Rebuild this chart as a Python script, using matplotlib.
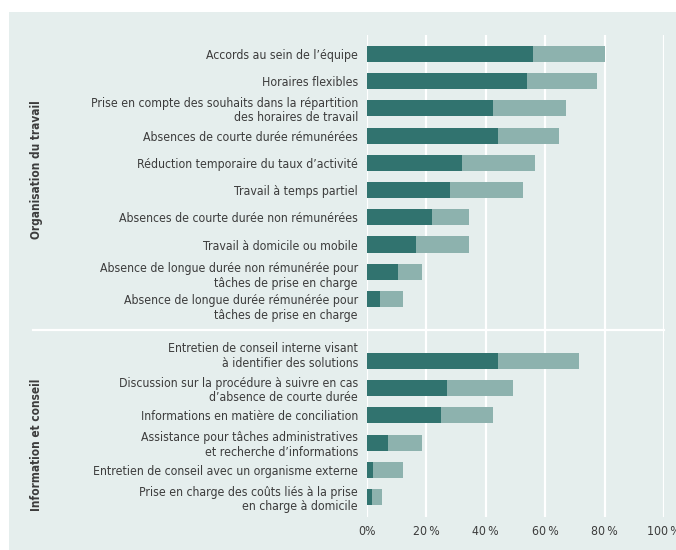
import matplotlib.pyplot as plt
from matplotlib.patches import Rectangle
import matplotlib.transforms as mtransforms

# Data (share in %)
labels_orga = [
    "Accords au sein de l’équipe",
    "Horaires flexibles",
    "Prise en compte des souhaits dans la répartition\ndes horaires de travail",
    "Absences de courte durée rémunérées",
    "Réduction temporaire du taux d’activité",
    "Travail à temps partiel",
    "Absences de courte durée non rémunérées",
    "Travail à domicile ou mobile",
    "Absence de longue durée non rémunérée pour\ntâches de prise en charge",
    "Absence de longue durée rémunérée pour\ntâches de prise en charge",
]
dark_orga = [56, 54, 42.5, 44, 32, 28, 22, 16.5, 10.5, 4.5]
total_orga = [80, 77.5, 67, 64.5, 56.5, 52.5, 34.5, 34.5, 18.5, 12]

labels_info = [
    "Entretien de conseil interne visant\nà identifier des solutions",
    "Discussion sur la procédure à suivre en cas\nd’absence de courte durée",
    "Informations en matière de conciliation",
    "Assistance pour tâches administratives\net recherche d’informations",
    "Entretien de conseil avec un organisme externe",
    "Prise en charge des coûts liés à la prise\nen charge à domicile",
]
dark_info = [44, 27, 25, 7, 2, 1.6]
total_info = [71.5, 49, 42.5, 18.5, 12, 5.2]

group_names = ["Organisation du travail", "Information et conseil"]
xticks = [0, 20, 40, 60, 80, 100]
xticklabels = ["0%", "20\u2009%", "40\u2009%", "60\u2009%", "80\u2009%", "100\u2009%"]

DARK = "#31736f"
LIGHT = "#8db2ae"
BG = "#e5eeed"
TXT = "#3c3c3c"

plt.rcParams['font.family'] = ['DejaVu Sans']
plt.rcParams['font.stretch'] = 'condensed'

fig = plt.figure(figsize=(6.76, 5.5), dpi=100)
fig.patches.append(Rectangle((9 / 676, 0), 1, 1 - 12 / 550, transform=fig.transFigure,
                             facecolor=BG, edgecolor='none', zorder=-1))

ax = fig.add_axes([367 / 676, 1 - 517 / 550, (664 - 367) / 676, (517 - 35) / 550])
ax.set_facecolor('none')

gap = 1.28
pos_orga = list(range(len(labels_orga)))
pos_info = [len(labels_orga) + gap + i for i in range(len(labels_info))]
pos = pos_orga + pos_info
labels = labels_orga + labels_info
dark = dark_orga + dark_info
total = total_orga + total_info
light = [t - d for t, d in zip(total, dark)]

h = 0.59
ax.barh(pos, dark, height=h, color=DARK, zorder=3)
ax.barh(pos, light, left=dark, height=h, color=LIGHT, zorder=3)

# some two-line labels sit off-centre in the original
shift = [0] * len(pos)
shift[8] = 0.07
shift[9] = 0.26
shift[10] = -0.26

ax.set_xlim(0, 100)
ax.set_ylim(pos[-1] + 0.735, -0.7)
ax.set_xticks(xticks)
ax.set_xticklabels(xticklabels, fontsize=8.8, color=TXT)
ax.set_yticks([p + s for p, s in zip(pos, shift)])
ax.set_yticklabels(labels, fontsize=8.8, color=TXT, linespacing=1.15)
ax.tick_params(length=0)
ax.tick_params(axis='y', pad=6.5)
ax.tick_params(axis='x', pad=6)
ax.grid(False)
for x in xticks:
    ax.axvline(x, color='white', linewidth=1.6, zorder=1)
for s in ax.spines.values():
    s.set_visible(False)

# white separator between the two groups
sep = (pos_orga[-1] + pos_info[0]) / 2
trans = mtransforms.blended_transform_factory(ax.transAxes, ax.transData)
ax.plot([(33 - 367) / (664 - 367), 1], [sep, sep], color='white', linewidth=1.6,
        transform=trans, clip_on=False, zorder=2)

# rotated group labels
fig.text(37 / 676, 1 - 170 / 550, group_names[0], rotation=90, ha='center', va='center',
         fontsize=8.5, fontweight='bold', color=TXT)
fig.text(37 / 676, 1 - 445 / 550, group_names[1], rotation=90, ha='center', va='center',
         fontsize=8.5, fontweight='bold', color=TXT)

fig.savefig('out.png', dpi=100)
